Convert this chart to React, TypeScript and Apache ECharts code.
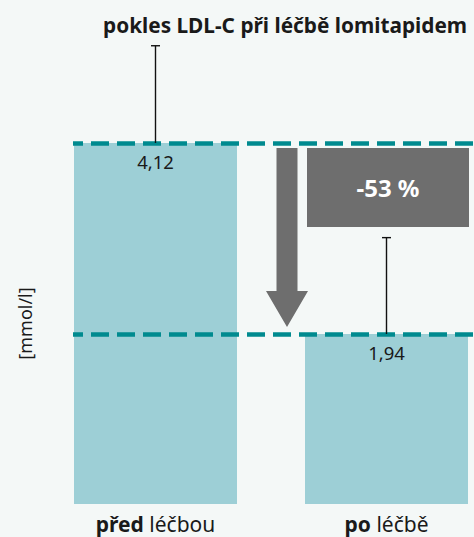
import React, { useEffect, useRef } from "react";
import * as echarts from "echarts";

const categories = ["před léčbou", "po léčbě"];
const categoryBold = ["před", "po"];
const categoryRest = ["léčbou", "léčbě"];
const values = [4.12, 1.94];
const errorTops = [5.23, 3.04];
const valueLabels = ["4,12", "1,94"];
const changeLabel = "-53 %";
const titleText = "pokles LDL-C při léčbě lomitapidem";
const yName = "[mmol/l]";

const FONT = "Noto Sans";
const BAR_W = 163;

export default function App() {
  const ref = useRef<HTMLDivElement>(null);
  useEffect(() => {
    if (!ref.current) return;
    const chart = echarts.init(ref.current, null, { renderer: "svg" });
    chart.setOption({
      animation: false,
      backgroundColor: "#f4f8f7",
      textStyle: { fontFamily: FONT },
      title: {
        text: titleText,
        left: 98,
        top: 9,
        textStyle: { fontFamily: FONT, fontSize: 20.8, fontWeight: "bold", color: "#1a1a1a" },
      },
      grid: { left: 40, width: 462, top: 143, bottom: 33, outerBoundsMode: "none", containLabel: false },
      xAxis: {
        type: "category",
        data: categories,
        axisLine: { show: false },
        axisTick: { show: false },
        axisLabel: {
          margin: 9,
          formatter: (_v: string, i: number) => `{b|${categoryBold[i]}}{r| ${categoryRest[i]}}`,
          rich: {
            b: { fontFamily: FONT, fontSize: 21, fontWeight: "bold", color: "#1a1a1a" },
            r: { fontFamily: FONT, fontSize: 21, color: "#1a1a1a" },
          },
        },
      },
      yAxis: {
        type: "value",
        min: 0,
        max: values[0],
        axisLine: { show: false },
        axisTick: { show: false },
        axisLabel: { show: false },
        splitLine: { show: false },
        name: yName,
        nameLocation: "middle",
        nameGap: 6,
        nameTextStyle: { fontFamily: FONT, fontSize: 18, color: "#1a1a1a" },
      },
      series: [
        {
          type: "bar",
          data: values,
          barWidth: BAR_W,
          itemStyle: { color: "#9dcfd6" },
          label: {
            show: true,
            position: "insideTop",
            distance: 9,
            formatter: (p: any) => valueLabels[p.dataIndex],
            fontFamily: FONT,
            fontSize: 18.5,
            color: "#1a1a1a",
          },
          markLine: {
            silent: true,
            symbol: ["none", "none"],
            label: { show: false },
            lineStyle: { type: [18, 8], dashOffset: 8, width: 4.5, color: "#008a8f" },
            data: values.map((v) => [
              { yAxis: v, x: 73 },
              { yAxis: v, x: 474 },
            ]),
          },
        },
        {
          type: "custom",
          z: 5,
          data: values.map((v, i) => [i, v, errorTops[i]]),
          encode: { x: 0, y: [1, 2] },
          renderItem: (_params: any, api: any) => {
            const x = api.value(0);
            const lo = api.coord([x, api.value(1)]);
            const hi = api.coord([x, api.value(2)]);
            const st = { stroke: "#111", lineWidth: 1.4 };
            return {
              type: "group",
              children: [
                { type: "line", shape: { x1: lo[0], y1: lo[1], x2: hi[0], y2: hi[1] }, style: st },
                { type: "line", shape: { x1: hi[0] - 4.5, y1: hi[1], x2: hi[0] + 4.5, y2: hi[1] }, style: st },
              ],
            };
          },
        },
        {
          type: "custom",
          z: 6,
          data: [[values[0], values[1]]],
          encode: { y: [0, 1] },
          renderItem: (_params: any, api: any) => {
            const top = api.coord([1, api.value(0)]);
            const bot = api.coord([1, api.value(1)]);
            const left = top[0] - BAR_W / 2;
            const ax = left - 18;
            const yTop = top[1] + 5;
            const yTip = bot[1] - 7;
            const yHead = yTip - 36;
            const gray = "#6e6e6e";
            return {
              type: "group",
              children: [
                {
                  type: "polygon",
                  shape: {
                    points: [
                      [ax - 10.5, yTop],
                      [ax + 10.5, yTop],
                      [ax + 10.5, yHead],
                      [ax + 21, yHead],
                      [ax, yTip],
                      [ax - 21, yHead],
                      [ax - 10.5, yHead],
                    ],
                  },
                  style: { fill: gray },
                },
                {
                  type: "rect",
                  shape: { x: left + 2, y: yTop, width: BAR_W - 1, height: 79 },
                  style: { fill: gray },
                },
                {
                  type: "text",
                  style: {
                    text: changeLabel,
                    x: left + 2 + (BAR_W - 1) / 2,
                    y: yTop + 39,
                    align: "center",
                    verticalAlign: "middle",
                    fill: "#ffffff",
                    fontFamily: FONT,
                    fontSize: 24,
                    fontWeight: "bold",
                  },
                },
              ],
            };
          },
        },
      ],
    });
    return () => chart.dispose();
  }, []);
  return (
    <div
      ref={ref}
      style={{ position: "fixed", left: 0, top: 0, width: 474, height: 537 }}
    />
  );
}
